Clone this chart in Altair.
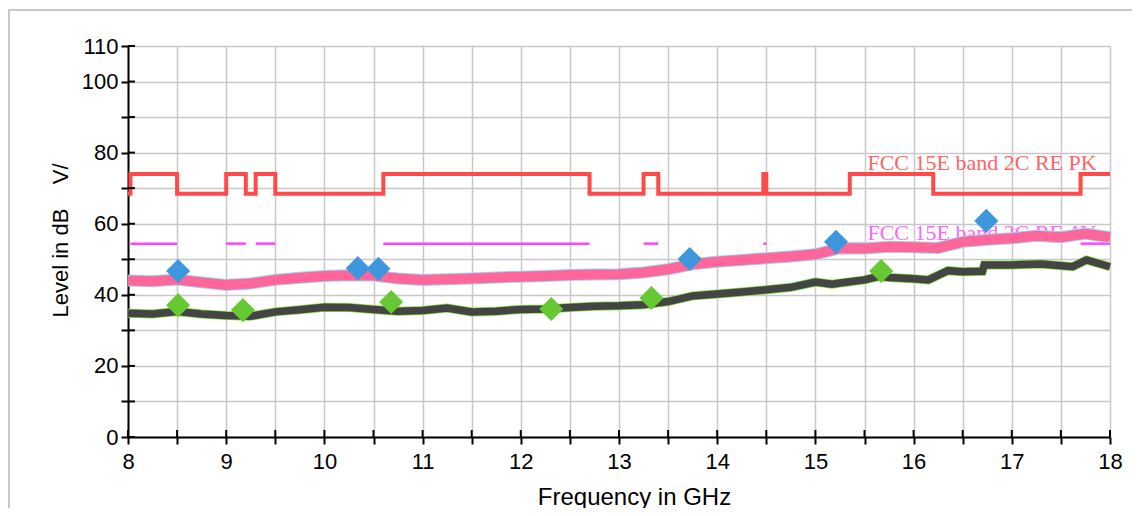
import altair as alt
import pandas as pd

# ---------------- data ----------------
x_ticks = [8, 8.5, 9, 9.5, 10, 10.5, 11, 11.5, 12, 12.5, 13, 13.5, 14, 14.5,
           15, 15.5, 16, 16.5, 17, 17.5, 18]
y_ticks = [0, 10, 20, 30, 40, 50, 60, 70, 80, 90, 100, 110]

# peak trace (pink)
freq_pk = [8.0, 8.25, 8.5, 8.75, 9.0, 9.25, 9.5, 9.75, 10.0, 10.25, 10.5, 10.75,
           11.0, 11.25, 11.5, 11.75, 12.0, 12.25, 12.5, 12.75, 13.0, 13.25, 13.5,
           13.75, 14.0, 14.25, 14.5, 14.75, 15.0, 15.25, 15.5, 15.75, 16.0, 16.25,
           16.5, 16.75, 17.0, 17.25, 17.5, 17.75, 18.0]
level_pk = [44.0, 43.8, 44.3, 43.5, 42.8, 43.2, 44.2, 44.8, 45.3, 45.5, 45.4, 44.6,
            44.2, 44.4, 44.6, 44.9, 45.1, 45.3, 45.6, 45.7, 45.8, 46.3, 47.2,
            48.6, 49.3, 49.8, 50.3, 50.8, 51.4, 53.1, 53.0, 53.5, 53.4, 53.2,
            54.9, 55.5, 55.9, 56.6, 56.2, 57.2, 56.2]

# average trace (dark grey)
freq_av = [8.0, 8.25, 8.5, 8.75, 9.0, 9.25, 9.5, 9.75, 10.0, 10.25, 10.5, 10.75,
           11.0, 11.25, 11.5, 11.75, 12.0, 12.25, 12.5, 12.75, 13.0, 13.25, 13.5,
           13.75, 14.0, 14.25, 14.5, 14.75, 15.0, 15.17, 15.25, 15.5, 15.65, 15.75,
           16.0, 16.15, 16.35, 16.5, 16.7, 16.72, 17.0, 17.3, 17.62, 17.76, 18.0]
level_av = [34.8, 34.6, 35.3, 34.6, 34.2, 34.0, 35.2, 35.8, 36.5, 36.4, 35.9, 35.4,
            35.6, 36.3, 35.2, 35.4, 35.9, 36.0, 36.4, 36.8, 36.9, 37.2, 38.1,
            39.7, 40.2, 40.8, 41.4, 42.1, 43.6, 43.0, 43.3, 44.2, 45.2, 44.9,
            44.5, 44.2, 46.8, 46.5, 46.6, 48.4, 48.4, 48.7, 47.9, 49.8, 47.9]

# limit lines
limit_freq = [8.0, 8.025, 8.5, 9.0, 9.2, 9.3, 9.5, 10.6, 12.7, 13.25, 13.4,
              14.47, 14.5, 15.35, 16.2, 17.7, 18.0]
limit_pk = [68.4, 74, 68.4, 74, 68.4, 74, 68.4, 74, 68.4, 74, 68.4,
            74, 68.4, 74, 68.4, 74, 74]
av_start = [8.025, 9.0, 9.3, 10.6, 13.25, 14.47, 15.35, 17.7]
av_end = [8.5, 9.2, 9.5, 12.7, 13.4, 14.5, 16.2, 18.0]
av_level = [54.4] * 8

# markers
mk_pk_f = [8.51, 10.34, 10.55, 13.72, 15.21, 16.74]
mk_pk_v = [46.7, 47.5, 47.3, 50.1, 54.9, 60.8]
mk_av_f = [8.51, 9.17, 10.68, 12.31, 13.33, 15.67]
mk_av_v = [37.1, 35.7, 38.0, 36.0, 39.1, 46.7]

label_text = ["FCC 15E band 2C RE PK", "FCC 15E band 2C RE AV"]
label_f = [15.53, 15.53]
label_v = [75.1, 55.4]

# ---------------- chart ----------------
W, H = 982, 391
FONT = "Liberation Sans"
FS = 22
NB = "\u00a0"

xs = alt.Scale(domain=[8, 18], nice=False, zero=False)
ys = alt.Scale(domain=[0, 110], nice=False, zero=False)

xax = alt.Axis(values=x_ticks,
               labelExpr="datum.value % 1 == 0 ? format(datum.value, 'd') : ''",
               grid=True, gridColor="#c8c8c8", gridWidth=1.5,
               domainColor="black", domainWidth=2,
               tickColor="black", tickWidth=2, tickSize=7,
               labelFont=FONT, labelFontSize=FS, labelColor="black",
               labelPadding=7, labelOverlap=False, labelFlush=False,
               title="Frequency in GHz", titleFont=FONT, titleFontSize=24,
               titleFontWeight="normal", titleColor="black",
               titleX=506, titleY=67, titleBaseline="alphabetic")
yax = alt.Axis(values=y_ticks,
               labelExpr="(datum.value % 20 == 0 || datum.value == 110) ? format(datum.value, 'd') : ''",
               grid=True, gridColor="#c8c8c8", gridWidth=1.5,
               domainColor="black", domainWidth=2,
               tickColor="black", tickWidth=2, tickSize=7,
               labelFont=FONT, labelFontSize=FS, labelColor="black",
               labelPadding=3, labelOverlap=False, labelFlush=False,
               title="Level in dB" + NB * 4 + "V/", titleFont=FONT, titleFontSize=FS,
               titleFontWeight="normal", titleColor="black",
               titleX=-61, titleY=194, titleAngle=-90,
               titleBaseline="alphabetic", titleAlign="center")


def X(field):
    return alt.X(field, type="quantitative", scale=xs, axis=xax)


def Y(field):
    return alt.Y(field, type="quantitative", scale=ys, axis=yax)


pk_df = pd.DataFrame({"f": freq_pk, "v": level_pk})
av_df = pd.DataFrame({"f": freq_av, "v": level_av})
lim_df = pd.DataFrame({"f": limit_freq, "v": limit_pk})
avlim_df = pd.DataFrame({"s": av_start, "e": av_end, "v": av_level})
mkpk_df = pd.DataFrame({"f": mk_pk_f, "v": mk_pk_v})
mkav_df = pd.DataFrame({"f": mk_av_f, "v": mk_av_v})
lbl_df = pd.DataFrame({"t": label_text, "f": label_f, "v": label_v})
xt_df = pd.DataFrame({"f": x_ticks})
yt_df = pd.DataFrame({"v": y_ticks})

border = alt.Chart(xt_df).mark_rect(fill="white", fillOpacity=0, stroke="#c8c8c8",
                                    strokeWidth=2).encode(
    x=alt.value(-119), x2=alt.value(1010), y=alt.value(-36), y2=alt.value(480))

limit_line = alt.Chart(lim_df).mark_line(color="#ff4a4a", strokeWidth=4,
                                         interpolate="step-after").encode(x=X("f"), y=Y("v"))

pk_text = alt.Chart(lbl_df.iloc[[0]]).mark_text(
    align="left", baseline="alphabetic", font="Liberation Serif", fontSize=22,
    color="#ff6464").encode(x=X("f"), y=Y("v"), text="t:N")

av_lim = alt.Chart(avlim_df).mark_rule(color="#ff44ff", strokeWidth=2.5).encode(
    x=X("s"), x2="e", y=Y("v"))

av_text = alt.Chart(lbl_df.iloc[[1]]).mark_text(
    align="left", baseline="alphabetic", font="Liberation Serif", fontSize=22,
    color="#ff66ff").encode(x=X("f"), y=Y("v"), text="t:N")

pk_fringe = alt.Chart(pk_df).mark_line(color="#9fd0f5", strokeWidth=12).encode(x=X("f"), y=Y("v"))
pk_line = alt.Chart(pk_df).mark_line(color="#ff6699", strokeWidth=10).encode(x=X("f"), y=Y("v"))
av_fringe = alt.Chart(av_df).mark_line(color="#88dd44", strokeWidth=9).encode(x=X("f"), y=Y("v"))
av_line = alt.Chart(av_df).mark_line(color="#444444", strokeWidth=7.5).encode(x=X("f"), y=Y("v"))

mk_pk = alt.Chart(mkpk_df).mark_point(shape="diamond", filled=True, size=580,
                                      color="#3d97dc", opacity=1).encode(x=X("f"), y=Y("v"))
mk_av = alt.Chart(mkav_df).mark_point(shape="diamond", filled=True, size=580,
                                      color="#66c832", opacity=1).encode(x=X("f"), y=Y("v"))

x_in_ticks = alt.Chart(xt_df).mark_rule(color="black", strokeWidth=2).encode(
    x=X("f"), y=alt.value(H - 7), y2=alt.value(H))
y_in_ticks = alt.Chart(yt_df).mark_rule(color="black", strokeWidth=2).encode(
    y=Y("v"), x=alt.value(0), x2=alt.value(7))

chart = alt.layer(
    border, limit_line, pk_text, av_lim, av_text, pk_fringe, pk_line,
    av_fringe, av_line, mk_pk, mk_av, x_in_ticks, y_in_ticks
).properties(
    width=W, height=H,
    autosize=alt.AutoSizeParams(type="none"),
    padding={"left": 120, "top": 38, "right": 22, "bottom": 71},
    background="white",
).configure_view(stroke=None)

chart.save("out.html", embed_options={"renderer": "svg", "actions": False})
